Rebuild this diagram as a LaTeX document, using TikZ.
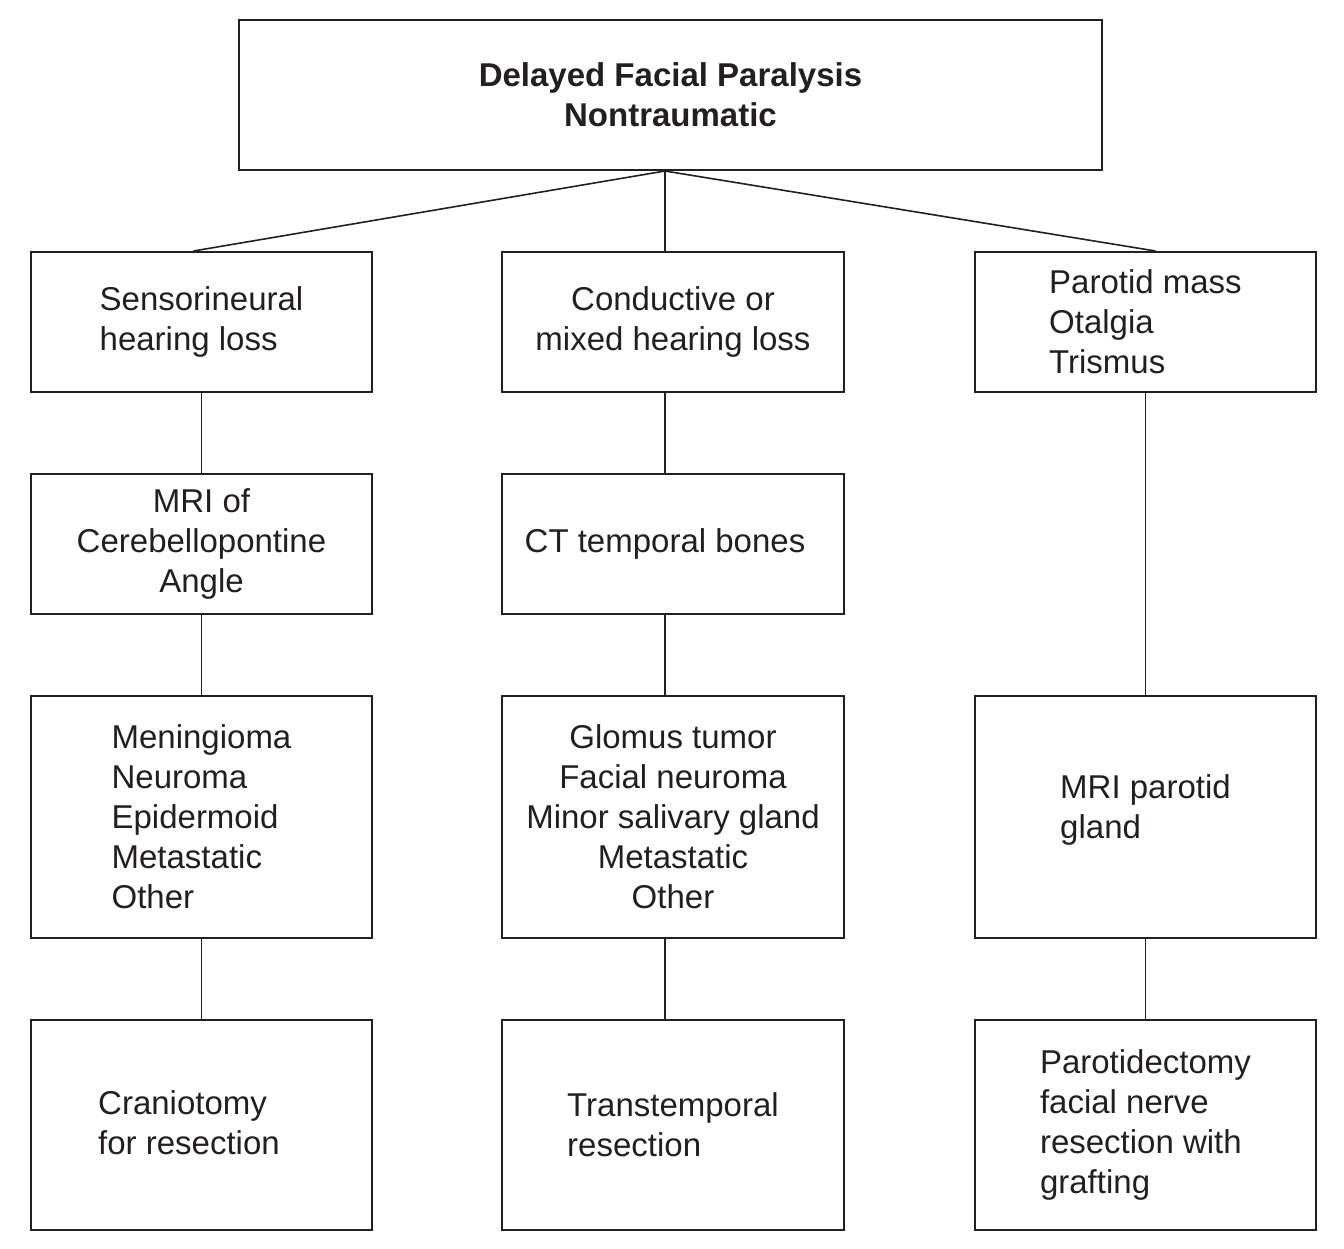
\documentclass[tikz,border=0pt]{standalone}
\usepackage{fontspec}
\setmainfont{Liberation Sans}
\definecolor{ink}{HTML}{231F20}
\begin{document}
\begin{tikzpicture}[x=1pt,y=-1pt,
  box/.style={draw=ink, line width=2pt, inner sep=0pt, text=ink,
    font=\fontsize{33}{40}\selectfont},
  conn/.style={draw=ink, line width=1.6pt},
  txt/.style={text=ink, inner sep=0pt, font=\fontsize{33}{40}\selectfont}]
\useasboundingbox (0,0) rectangle (1344,1248);
\node[box, minimum width=863pt, minimum height=150pt, align=center,
  font=\fontsize{33}{40}\selectfont\bfseries] (top) at (670.5,95)
  {Delayed Facial Paralysis\\Nontraumatic};
% row 1
\node[box, minimum width=341pt, minimum height=140pt, align=left] (a1) at (201.5,322)
  {Sensorineural\\hearing loss};
\node[box, minimum width=342pt, minimum height=140pt, align=center] (b1) at (673,322)
  {Conductive or\\mixed hearing loss};
\node[box, minimum width=341pt, minimum height=140pt, align=left] (c1) at (1145.5,322)
  {Parotid mass\\Otalgia\\Trismus};
% row 2
\node[box, minimum width=341pt, minimum height=140pt, align=center] (a2) at (201.5,544)
  {MRI of\\Cerebellopontine\\Angle};
\node[box, minimum width=342pt, minimum height=140pt] (b2) at (673,544) {};
\node[txt] (b2t) at (665,544) {CT temporal bones};
% row 3
\node[box, minimum width=341pt, minimum height=242pt, align=left] (a3) at (201.5,817)
  {Meningioma\\Neuroma\\Epidermoid\\Metastatic\\Other};
\node[box, minimum width=342pt, minimum height=242pt, align=center] (b3) at (673,817)
  {Glomus tumor\\Facial neuroma\\Minor salivary gland\\Metastatic\\Other};
\node[box, minimum width=341pt, minimum height=242pt] (c3) at (1145.5,817) {};
\node[txt, align=left] (c3t) at (1145.5,810) {MRI parotid\\gland};
% row 4
\node[box, minimum width=341pt, minimum height=210pt] (a4) at (201.5,1125) {};
\node[txt, align=left] (a4t) at (189,1123) {Craniotomy\\for resection};
\node[box, minimum width=342pt, minimum height=210pt, align=left] (b4) at (673,1125)
  {Transtemporal\\resection};
\node[box, minimum width=341pt, minimum height=210pt, align=left] (c4) at (1145.5,1125)
  {Parotidectomy\\facial nerve\\resection with\\grafting};
% connectors
\coordinate (hub) at ([xshift=-5.5pt]top.south);
\draw[conn] (hub) -- ([xshift=-8pt]a1.north);
\draw[conn] (hub) -- (hub |- b1.north);
\draw[conn] (hub) -- ([xshift=10pt]c1.north);
\draw[conn] (a1.south) -- (a2.north);
\draw[conn] (a2.south) -- (a3.north);
\draw[conn] (a3.south) -- (a4.north);
\draw[conn] (hub |- b1.south) -- (hub |- b2.north);
\draw[conn] (hub |- b2.south) -- (hub |- b3.north);
\draw[conn] (hub |- b3.south) -- (hub |- b4.north);
\draw[conn] (c1.south) -- (c3.north);
\draw[conn] (c3.south) -- (c4.north);
\end{tikzpicture}
\end{document}
